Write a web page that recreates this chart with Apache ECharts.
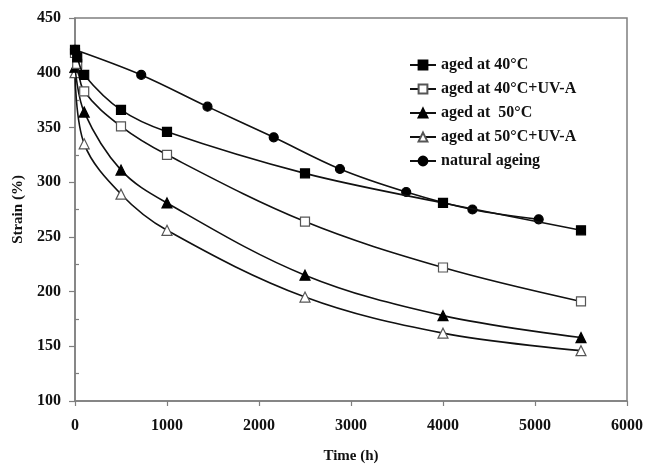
<!DOCTYPE html>
<html>
<head>
<meta charset="utf-8">
<script src="https://cdn.jsdelivr.net/npm/echarts@6/dist/echarts.min.js"></script>
<style>
  html, body { margin: 0; padding: 0; background: #fff; }
  #chart { width: 646px; height: 469px; }
</style>
</head>
<body>
<div id="chart"></div>
<script>
// Strain (%) versus ageing time (h) for the five ageing conditions
const seriesNames = ['aged at 40°C', 'aged at 40°C+UV-A', 'aged at  50°C', 'aged at 50°C+UV-A', 'natural ageing'];

const time40 = [0, 24, 100, 500, 1000, 2500, 4000, 5500];
const strain40 = [421, 414, 398, 366, 346, 308, 281, 256];

const time40uv = [0, 24, 100, 500, 1000, 2500, 4000, 5500];
const strain40uv = [418, 408, 383, 351, 325, 264, 222, 191];

const time50 = [0, 100, 500, 1000, 2500, 4000, 5500];
const strain50 = [405, 364, 311, 281, 215, 178, 158];

const time50uv = [0, 100, 500, 1000, 2500, 4000, 5500];
const strain50uv = [400, 335, 289, 256, 195, 162, 146];

const timeNatural = [0, 720, 1440, 2160, 2880, 3600, 4320, 5040];
const strainNatural = [421, 398, 369, 341, 312, 291, 275, 266];

const xTicks = { min: 0, max: 6000, interval: 1000 };
const yTicks = { min: 100, max: 450, interval: 50 };

function pairs(xs, ys) { return xs.map((x, i) => [x, ys[i]]); }

const font = 'Liberation Serif';
const axisGray = '#7f7f7f';

const markers = [
  { symbol: 'rect', size: 9, fill: '#000', edge: '#000' },
  { symbol: 'rect', size: 9, fill: '#fff', edge: '#555' },
  { symbol: 'triangle', size: 10, fill: '#000', edge: '#000' },
  { symbol: 'triangle', size: 10, fill: '#fff', edge: '#555' },
  { symbol: 'circle', size: 9, fill: '#000', edge: '#000' }
];

const dataSets = [
  pairs(time40, strain40),
  pairs(time40uv, strain40uv),
  pairs(time50, strain50),
  pairs(time50uv, strain50uv),
  pairs(timeNatural, strainNatural)
];

const series = dataSets.map((d, i) => ({
  name: seriesNames[i],
  type: 'line',
  data: d,
  smooth: 0.35,
  symbol: markers[i].symbol,
  symbolSize: markers[i].size,
  showAllSymbol: true,
  z: 10 - i,
  lineStyle: { color: '#111', width: 1.6 },
  itemStyle: { color: markers[i].fill, borderColor: markers[i].edge, borderWidth: 1.2 },
  emphasis: { disabled: true },
  animation: false
}));

const chart = echarts.init(document.getElementById('chart'), null, { renderer: 'canvas' });
chart.setOption({
  animation: false,
  backgroundColor: '#fff',
  grid: {
    left: 75, right: 16.5, top: 18, bottom: 64,
    show: true, borderColor: axisGray, borderWidth: 1.5, backgroundColor: 'transparent'
  },
  legend: {
    orient: 'vertical',
    left: 404,
    top: 52,
    itemWidth: 26,
    itemHeight: 11,
    itemGap: 8,
    data: seriesNames,
    textStyle: { fontFamily: font, fontWeight: 'bold', fontSize: 16, color: '#111', lineHeight: 16 }
  },
  xAxis: {
    type: 'value',
    min: xTicks.min, max: xTicks.max, interval: xTicks.interval,
    name: 'Time (h)',
    nameLocation: 'middle',
    nameGap: 48,
    nameTextStyle: { fontFamily: font, fontWeight: 'bold', fontSize: 15, color: '#111' },
    axisLine: { lineStyle: { color: axisGray, width: 1.5 } },
    axisTick: { show: true, length: 5, lineStyle: { color: axisGray, width: 1.2 } },
    axisLabel: {
      fontFamily: font, fontWeight: 'bold', fontSize: 16, color: '#111', margin: 17,
      formatter: v => String(v)
    },
    splitLine: { show: false }
  },
  yAxis: [{
    type: 'value',
    min: yTicks.min, max: yTicks.max, interval: yTicks.interval,
    name: 'Strain (%)',
    nameLocation: 'middle',
    nameGap: 45,
    nameRotate: 90,
    nameTextStyle: { fontFamily: font, fontWeight: 'bold', fontSize: 15, color: '#111' },
    axisLine: { show: true, lineStyle: { color: axisGray, width: 1.5 } },
    axisTick: { show: true, length: 6, lineStyle: { color: axisGray, width: 1.2 } },
    axisLabel: {
      fontFamily: font, fontWeight: 'bold', fontSize: 16, color: '#111', margin: 14,
      formatter: v => String(v)
    },
    splitLine: { show: false }
  }, {
    // short inner ticks halfway between the labelled ones
    type: 'value',
    position: 'left',
    min: yTicks.min, max: yTicks.max, interval: yTicks.interval,
    axisLine: { show: false },
    axisTick: { show: false, inside: true },
    minorTick: { show: true, splitNumber: 2, length: 4, lineStyle: { color: axisGray, width: 1.2 } },
    axisLabel: { show: false },
    splitLine: { show: false }
  }],
  series: series
});
</script>
</body>
</html>
